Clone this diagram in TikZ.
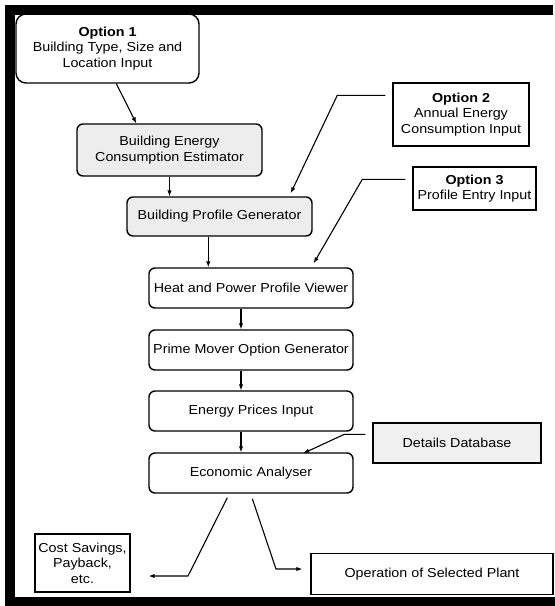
\documentclass[tikz,border=0pt]{standalone}
\usepackage{fontspec}
\setmainfont{Liberation Sans}[FakeStretch=1.1]
\usetikzlibrary{arrows.meta,calc}
\begin{document}
\begin{tikzpicture}[x=1pt,y=-1pt,
  every node/.style={font=\fontsize{13}{15.5}\selectfont, align=center, inner sep=0pt},
  rbox/.style={draw, line width=1.4pt, rounded corners=6pt},
  obox/.style={draw, line width=1.4pt, rounded corners=10pt},
  gbox/.style={rbox, fill=gray!14},
  sbox/.style={draw, line width=1.4pt},
  dbox/.style={sbox, fill=gray!12},
  arr/.style={line width=1.1pt, -{Latex[length=6pt,width=4.5pt]}}
]
\useasboundingbox (0,0) rectangle (555,606);
% outer frame (right side cut off)
\draw[line width=9.5pt, line join=miter] (553,9.75) -- (10,9.75) -- (10,601.75) -- (556,601.75);

\node[obox, minimum width=183pt, minimum height=69pt] (o1) at (107.5,48.5)
  {\textbf{Option 1}\\Building Type, Size and\\Location Input};
\node[gbox, minimum width=185pt, minimum height=52pt] (bece) at (169.5,150)
  {Building Energy\\Consumption Estimator};
\node[gbox, minimum width=185pt, minimum height=39pt] (bpg) at (219.5,216.5)
  {Building Profile Generator};
\node[rbox, minimum width=204pt, minimum height=40pt] (heat) at (251,288)
  {Heat and Power Profile Viewer};
\node[rbox, minimum width=204pt, minimum height=40pt] (prime) at (251,350)
  {Prime Mover Option Generator};
\node[rbox, minimum width=204pt, minimum height=40pt] (energy) at (251,411)
  {Energy Prices Input};
\node[rbox, minimum width=204pt, minimum height=40pt] (econ) at (251,473)
  {Economic Analyser};
\node[dbox, minimum width=168pt, minimum height=40pt] (det) at (457,443)
  {Details Database};
\node[sbox, minimum width=95pt, minimum height=58pt] (cost) at (82.5,563)
  {Cost Savings,\\Payback,\\etc.};
\node[sbox, minimum width=242pt, minimum height=41pt] (op) at (432,574)
  {Operation of Selected Plant};
\node[sbox, minimum width=136pt, minimum height=63pt] (o2) at (461,114.5)
  {\textbf{Option 2}\\Annual Energy\\Consumption Input};
\node[sbox, minimum width=123pt, minimum height=43pt] (o3) at (474.5,188.5)
  {\textbf{Option 3}\\Profile Entry Input};

% helper coordinates
\coordinate (c1) at ($(bpg.south west)+(82,0)$);
\coordinate (c2) at ($(heat.south)+(-10,0)$);
\coordinate (c3) at ($(prime.south)+(-10,0)$);
\coordinate (c4) at ($(energy.south)+(-10,0)$);

% connectors
\draw[arr] ($(o1.south west)+(101,0)$) -- ($(bece.north west)+(60,0)$);
\draw[arr] (bece.south) -- (bece.south |- bpg.north);
\draw[arr] (c1) -- (c1 |- heat.north);
\draw[arr] (c2) -- (c2 |- prime.north);
\draw[arr] (c3) -- (c3 |- energy.north);
\draw[arr] (c4) -- (c4 |- econ.north);
\draw[arr] ($(o2.north west)+(-7,13)$) -- ($(o2.north west)+(-55,13)$) -- ($(bpg.north east)+(-22,-3)$);
\draw[arr] ($(o3.north west)+(-7,13)$) -- ($(o3.north west)+(-50,13)$) -- ($(heat.north east)+(-40,-4)$);
\draw[arr] ($(det.north west)+(-7,12)$) -- ($(det.north west)+(-28,12)$) -- ($(econ.north west)+(155,1)$);
\draw[arr] ($(econ.south west)+(79,4)$) -- (188,576) -- ($(cost.east)+(18,13)$);
\draw[arr] ($(econ.south west)+(104,5)$) -- (276,569) -- ($(op.west)+(-8,-5)$);
\end{tikzpicture}
\end{document}
